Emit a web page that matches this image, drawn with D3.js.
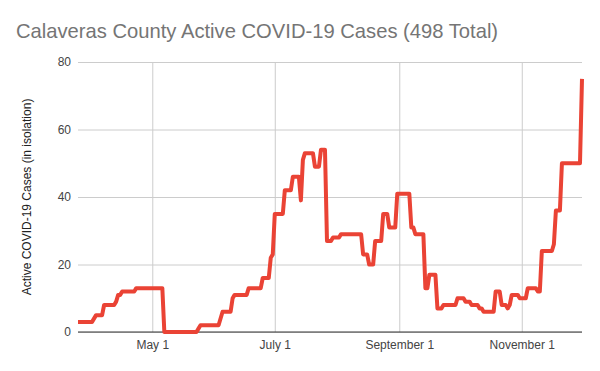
<!DOCTYPE html>
<html lang="en">
<head>
  <meta charset="utf-8"/>
  <title>Calaveras County Active COVID-19 Cases</title>
  <script src="https://d3js.org/d3.v7.min.js"></script>
  <style>
    html, body { margin: 0; padding: 0; background: #fff; }
    svg { display: block; font-family: "Liberation Sans", Arial, sans-serif; }
  </style>
</head>
<body>
<svg id="chart" width="600" height="371"></svg>
<script>
  // values (change points of the daily series, 2020)
  const dates = [
    "2020-03-25", "2020-04-01", "2020-04-03", "2020-04-06", "2020-04-07", "2020-04-12",
    "2020-04-13", "2020-04-14", "2020-04-15", "2020-04-16", "2020-04-22", "2020-04-23",
    "2020-05-06", "2020-05-07", "2020-05-23", "2020-05-24", "2020-05-25", "2020-06-03",
    "2020-06-05", "2020-06-09", "2020-06-10", "2020-06-11", "2020-06-17", "2020-06-18",
    "2020-06-24", "2020-06-25", "2020-06-28", "2020-06-29", "2020-06-30", "2020-07-01",
    "2020-07-05", "2020-07-06", "2020-07-09", "2020-07-10", "2020-07-13", "2020-07-14",
    "2020-07-15", "2020-07-16", "2020-07-20", "2020-07-21", "2020-07-23", "2020-07-24",
    "2020-07-26", "2020-07-27", "2020-07-29", "2020-07-30", "2020-08-02", "2020-08-03",
    "2020-08-13", "2020-08-14", "2020-08-16", "2020-08-17", "2020-08-19", "2020-08-20",
    "2020-08-23", "2020-08-24", "2020-08-26", "2020-08-27", "2020-08-30", "2020-08-31",
    "2020-09-06", "2020-09-07", "2020-09-08", "2020-09-09", "2020-09-13", "2020-09-14",
    "2020-09-15", "2020-09-16", "2020-09-19", "2020-09-20", "2020-09-22", "2020-09-23",
    "2020-09-29", "2020-09-30", "2020-10-03", "2020-10-04", "2020-10-06", "2020-10-07",
    "2020-10-10", "2020-10-11", "2020-10-12", "2020-10-13", "2020-10-18", "2020-10-19",
    "2020-10-21", "2020-10-22", "2020-10-24", "2020-10-25", "2020-10-26", "2020-10-27",
    "2020-10-30", "2020-10-31", "2020-11-03", "2020-11-04", "2020-11-08", "2020-11-09",
    "2020-11-10", "2020-11-11", "2020-11-16", "2020-11-17", "2020-11-18", "2020-11-20",
    "2020-11-21", "2020-11-30", "2020-12-01"
  ];
  const activeCases = [
    3, 3, 5, 5, 8, 8,
    9, 11, 11, 12, 12, 13,
    13, 0, 0, 1, 2, 2,
    6, 6, 10, 11, 11, 13,
    13, 16, 16, 22, 23, 35,
    35, 42, 42, 46, 46, 39,
    51, 53, 53, 49, 49, 54,
    54, 27, 27, 28, 28, 29,
    29, 23, 23, 20, 20, 27,
    27, 35, 35, 31, 31, 41,
    41, 31, 31, 29, 29, 13,
    13, 17, 17, 7, 7, 8,
    8, 10, 10, 9, 9, 8,
    8, 7, 7, 6, 6, 12,
    12, 8, 8, 7, 8, 11,
    11, 10, 10, 13, 13, 12,
    12, 24, 24, 26, 36, 36,
    50, 50, 75
  ];
  const yTicks = [0, 20, 40, 60, 80];
  const xTickDates = ["2020-05-01", "2020-07-01", "2020-09-01", "2020-11-01"];
  const xTickLabels = ["May 1", "July 1", "September 1", "November 1"];

  const font = "'Liberation Sans', Arial, sans-serif";
  const parse = d3.timeParse("%Y-%m-%d");
  const data = dates.map((d, i) => ({ date: parse(d), value: activeCases[i] }));

  const svg = d3.select("#chart");
  const plotLeft = 78, plotRight = 582, plotTop = 62, plotBottom = 332;

  const x = d3.scaleTime()
    .domain([parse("2020-03-25"), parse("2020-12-01")])
    .range([plotLeft, plotRight]);
  const y = d3.scaleLinear().domain([0, 80]).range([plotBottom, plotTop]);

  // title
  svg.append("text")
    .attr("x", 16)
    .attr("y", 38)
    .attr("fill", "#757575")
    .attr("font-family", font)
    .attr("font-size", 20.2)
    .text("Calaveras County Active COVID-19 Cases (498 Total)");

  // horizontal grid + y labels
  const yAxis = svg.append("g")
    .attr("transform", `translate(${plotLeft},0)`)
    .call(d3.axisLeft(y).tickValues(yTicks).tickSize(-(plotRight - plotLeft)).tickPadding(7));
  yAxis.select(".domain").remove();
  yAxis.selectAll(".tick line").attr("stroke", "#cccccc");
  yAxis.selectAll(".tick text").attr("fill", "#444").attr("font-size", 12)
    .attr("font-family", font);

  // vertical grid + x labels
  const xAxis = svg.append("g")
    .attr("transform", `translate(0,${plotBottom})`)
    .call(d3.axisBottom(x).tickValues(xTickDates.map(parse))
      .tickFormat((d, i) => xTickLabels[i])
      .tickSize(-(plotBottom - plotTop)).tickPadding(8));
  xAxis.select(".domain").remove();
  xAxis.selectAll(".tick line").attr("stroke", "#cccccc");
  xAxis.selectAll(".tick text").attr("fill", "#444").attr("font-size", 12)
    .attr("font-family", font);

  // baseline
  svg.append("line")
    .attr("x1", plotLeft).attr("x2", plotRight)
    .attr("y1", y(0)).attr("y2", y(0))
    .attr("stroke", "#333");

  // y axis title
  svg.append("text")
    .attr("transform", `translate(31,${(plotTop + plotBottom) / 2}) rotate(-90)`)
    .attr("text-anchor", "middle")
    .attr("fill", "#222")
    .attr("font-family", font)
    .attr("font-size", 12)
    .text("Active COVID-19 Cases (in isolation)");

  // series line
  const line = d3.line()
    .x(d => x(d.date))
    .y(d => y(d.value));

  svg.append("path")
    .datum(data)
    .attr("fill", "none")
    .attr("stroke", "#ea4335")
    .attr("stroke-width", 4)
    .attr("stroke-linejoin", "round")
    .attr("d", line);
</script>
</body>
</html>
